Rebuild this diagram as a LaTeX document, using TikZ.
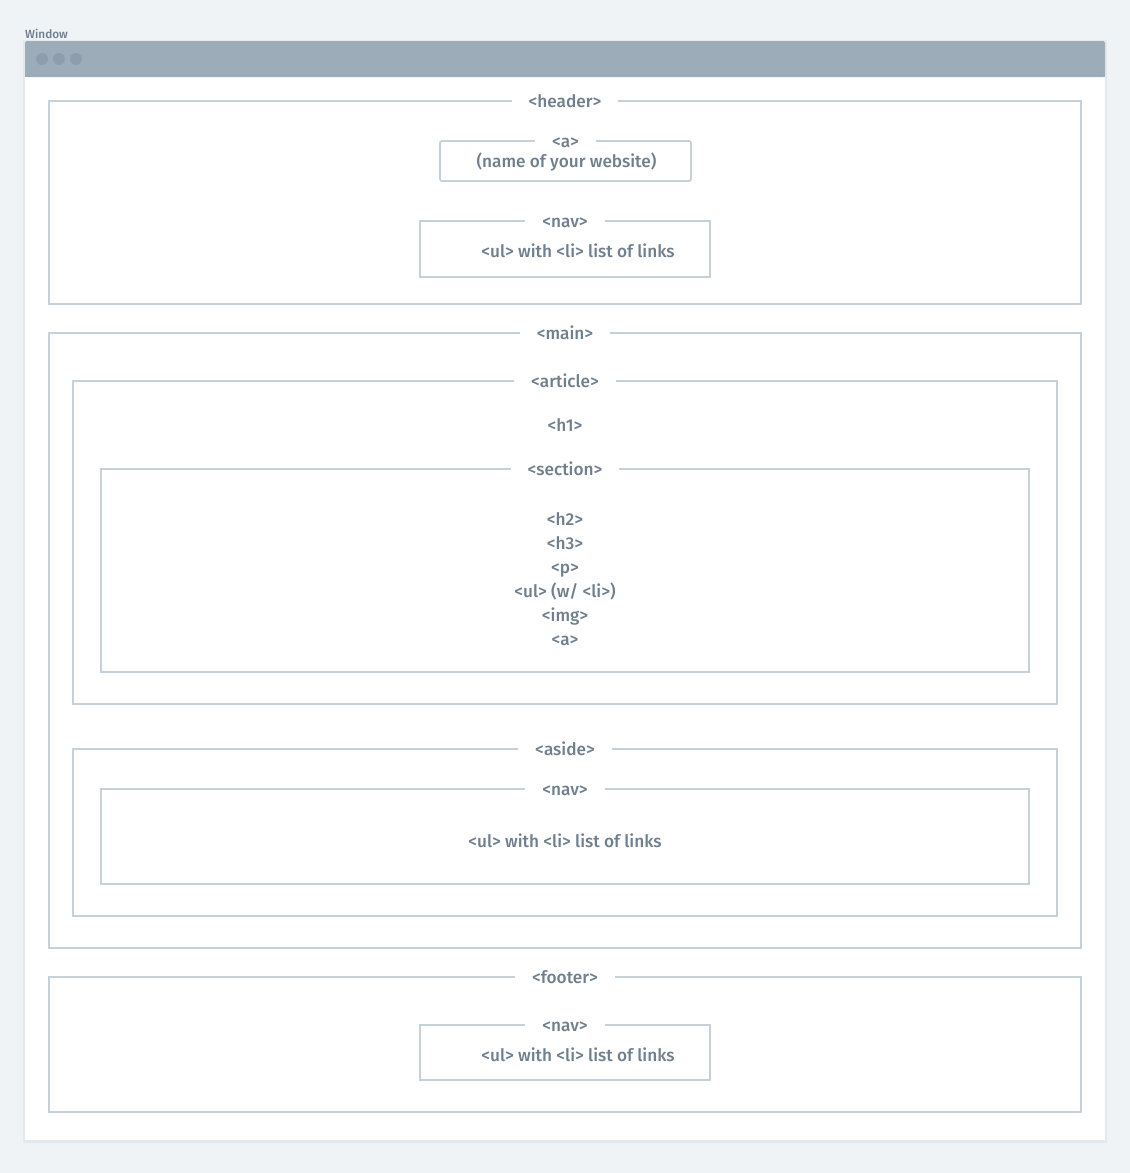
\documentclass[tikz,border=0pt]{standalone}
\usepackage{fontspec}
\setmainfont{Fira Sans}[UprightFont={* Medium}]
\usetikzlibrary{positioning}
\definecolor{bg}{HTML}{EFF3F6}
\definecolor{bar}{HTML}{9DACB9}
\definecolor{dot}{HTML}{8D9DAB}
\definecolor{edge}{HTML}{C6D0D8}
\definecolor{ink}{HTML}{6F7F8E}
\definecolor{shadow}{HTML}{E4E9ED}
\tikzset{
  box/.style={draw=edge, line width=1.8pt, fill=none, inner sep=0pt, outer sep=0pt},
  tag/.style={fill=white, text=ink, inner xsep=17pt, inner ysep=2pt, text height=12pt, text depth=0pt, font=\fontsize{17.2}{19}\selectfont},
  txt/.style={text=ink, inner sep=0pt, text height=12pt, text depth=0pt, font=\fontsize{17.2}{19}\selectfont},
}
\newcommand{\mybox}[5]{% name, x1, y1, x2, y2
  \node[box, minimum width={#4-#2}, minimum height={#5-#3}] (#1) at ({(#2+#4)/2},{(#3+#5)/2}) {};
}
\begin{document}
\begin{tikzpicture}[x=1pt,y=-1pt]
\useasboundingbox (0,0) rectangle (1130,1173);
\fill[bg] (0,0) rectangle (1130,1173);
% window
\fill[shadow] (23,40) rectangle (1107,1143);
\node[draw=none, fill=white, inner sep=0pt, minimum width=1080, minimum height=1099] (win) at (565,590.5) {};
\node[fill=bar, inner sep=0pt, minimum width=1080, minimum height=36, rounded corners=2pt] (bar) at (565,59) {};
\fill[bar] (25,70) rectangle (1105,77);
\node[circle, fill=dot, minimum size=12, inner sep=0pt] (d1) at (42,59) {};
\node[circle, fill=dot, minimum size=12, inner sep=0pt] (d2) at (59,59) {};
\node[circle, fill=dot, minimum size=12, inner sep=0pt] (d3) at (76,59) {};
\node[anchor=west, text=ink, inner sep=0pt, font=\fontsize{11.8}{12}\selectfont] (wlabel) at (25,33.5) {Window};
% header
\mybox{header}{49}{101}{1081}{304}
\node[tag] (headertag) at (header.north) {<header>};
\node[box, rounded corners=2pt, minimum width=251, minimum height=40] (alink) at (565.5,161) {};
\node[tag] (atag) at (alink.north) {<a>};
\node[txt] (atext) at (566.5,161) {(name of your website)};
\mybox{hnav}{420}{221}{710}{277}
\node[tag] (hnavtag) at (hnav.north) {<nav>};
\node[txt] (hnavtext) at (578,251) {<ul> with <li> list of links};
% main
\mybox{main}{49}{333}{1081}{948}
\node[tag] (maintag) at (main.north) {<main>};
\mybox{article}{73}{381}{1057}{704}
\node[tag] (articletag) at (article.north) {<article>};
\node[txt] (h1) at (565,425) {<h1>};
\mybox{section}{101}{469}{1029}{672}
\node[tag] (sectiontag) at (section.north) {<section>};
\node[txt] (h2) at (565,519) {<h2>};
\node[txt] (h3) at (565,543) {<h3>};
\node[txt] (p) at (565,567) {<p>};
\node[txt] (ul) at (565,591) {<ul> (w/ <li>)};
\node[txt] (img) at (565,615) {<img>};
\node[txt] (sa) at (565,639) {<a>};
\mybox{aside}{73}{749}{1057}{916}
\node[tag] (asidetag) at (aside.north) {<aside>};
\mybox{anav}{101}{789}{1029}{884}
\node[tag] (anavtag) at (anav.north) {<nav>};
\node[txt] (anavtext) at (565,841) {<ul> with <li> list of links};
% footer
\mybox{footer}{49}{977}{1081}{1112}
\node[tag] (footertag) at (footer.north) {<footer>};
\mybox{fnav}{420}{1025}{710}{1080}
\node[tag] (fnavtag) at (fnav.north) {<nav>};
\node[txt] (fnavtext) at (578,1055) {<ul> with <li> list of links};
\end{tikzpicture}
\end{document}
